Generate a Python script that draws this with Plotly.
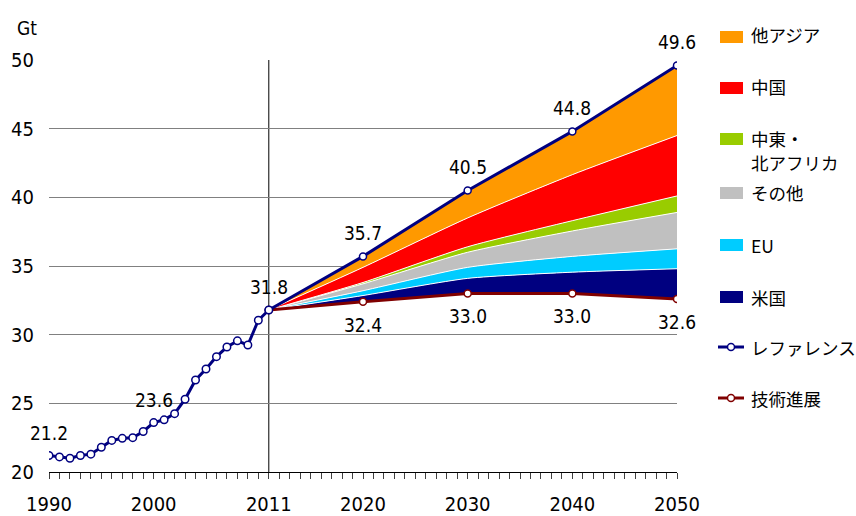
import numpy as np
import plotly.graph_objects as go

# Historical emissions (Gt), 1990-2011
hist_years = list(range(1990, 2012))
hist_vals = [21.2, 21.1, 21.0, 21.2, 21.3, 21.8, 22.3, 22.45, 22.5, 22.95,
             23.6, 23.8, 24.25, 25.3, 26.7, 27.5, 28.4, 29.1, 29.55, 29.25,
             31.05, 31.8]

# Scenarios
proj_years = [2011, 2020, 2030, 2040, 2050]
reference = [31.8, 35.7, 40.5, 44.8, 49.6]
tech_progress = [31.8, 32.4, 33.0, 33.0, 32.6]

# Reductions by region (stacked from the tech-progress line upward)
cut_us = [0, 0.45, 1.1, 1.55, 2.2]
cut_eu = [0, 0.35, 0.8, 1.15, 1.45]
cut_other = [0, 0.5, 1.1, 1.85, 2.65]
cut_mena = [0, 0.1, 0.4, 0.75, 1.2]
cut_china = [0, 1.1, 2.1, 3.35, 4.4]
cut_asia = [0, 0.8, 2.0, 3.15, 5.1]

region_names = ["米国", "EU", "その他", "中東・北アフリカ", "中国", "他アジア"]
region_colors = ["#000080", "#00CCFF", "#C0C0C0", "#99CC00", "#FF0000", "#FF9900"]
region_cuts = [cut_us, cut_eu, cut_other, cut_mena, cut_china, cut_asia]

x_labels = {1990: "1990", 2000: "2000", 2011: "2011", 2020: "2020",
            2030: "2030", 2040: "2040", 2050: "2050"}

REF_COLOR = "#000080"
TECH_COLOR = "#800000"
FONT = "DejaVu Sans Condensed, DejaVu Sans"
JP_FONT = "Noto Sans CJK JP"
JP_SIZE = 17.5

fig = go.Figure()

# stacked wedges
base = np.array(tech_progress, dtype=float)
fig.add_trace(go.Scatter(x=proj_years, y=base, mode="lines",
                         line=dict(width=0, color=TECH_COLOR),
                         hoverinfo="skip", showlegend=False))
cum = base.copy()
for i, (name, color, cut) in enumerate(zip(region_names, region_colors, region_cuts)):
    cum = cum + np.array(cut, dtype=float)
    top_layer = i == len(region_cuts) - 1
    fig.add_trace(go.Scatter(
        x=proj_years, y=cum.copy(), mode="lines", name=name,
        fill="tonexty", fillcolor=color,
        line=dict(color="white", width=1,
                  shape="linear" if top_layer else "spline", smoothing=0.6),
        showlegend=False))

# scenario lines
fig.add_trace(go.Scatter(
    x=proj_years, y=tech_progress, mode="lines+markers", name="技術進展",
    line=dict(color=TECH_COLOR, width=3),
    marker=dict(symbol="circle", size=7, color="white",
                line=dict(color=TECH_COLOR, width=1.5)),
    showlegend=False))
fig.add_trace(go.Scatter(
    x=proj_years, y=reference, mode="lines+markers", name="レファレンス",
    line=dict(color=REF_COLOR, width=3),
    marker=dict(symbol="circle", size=7, color="white",
                line=dict(color=REF_COLOR, width=1.5)),
    showlegend=False))
fig.add_trace(go.Scatter(
    x=hist_years, y=hist_vals, mode="lines+markers", name="実績",
    line=dict(color=REF_COLOR, width=3),
    marker=dict(symbol="circle", size=7.5, color="white",
                line=dict(color=REF_COLOR, width=1.5)),
    showlegend=False))

# value labels
annotations = []
def value_label(x, y, shift):
    annotations.append(dict(x=x, y=y, text=f"{y:.1f}", showarrow=False,
                            yshift=shift, xref="x", yref="y",
                            xanchor="center", yanchor="middle",
                            font=dict(family=FONT, size=19, color="black")))

for yr in (1990, 2000, 2011):
    value_label(yr, hist_vals[hist_years.index(yr)], 23)
for yr, v in zip(proj_years[1:], reference[1:]):
    value_label(yr, v, 23)
for yr, v in zip(proj_years[1:], tech_progress[1:]):
    value_label(yr, v, -23)

# legend and unit label are placed in pixel space around the plot
L, T, W, H = 49, 60, 628, 412
def px(xp):
    return (xp - L) / W
def py(yp):
    return (T + H - yp) / H

annotations.append(dict(x=px(27), y=py(28), xref="paper", yref="paper", text="Gt",
                        showarrow=False, xanchor="center", yanchor="middle",
                        font=dict(family=FONT, size=19, color="black")))

shapes = []
square_items = [(["他アジア"], "#FF9900", 37, [35]),
                (["中国"], "#FF0000", 88, [87]),
                (["中東・", "北アフリカ"], "#99CC00", 139, [138, 162]),
                (["その他"], "#C0C0C0", 193, [192]),
                (["EU"], "#00CCFF", 245, [245]),
                (["米国"], "#000080", 297, [297])]
for lines, color, sy, tys in square_items:
    shapes.append(dict(type="rect", xref="paper", yref="paper",
                       x0=px(720), x1=px(743), y0=py(sy + 6), y1=py(sy - 6),
                       fillcolor=color, line=dict(width=0)))
    for text, ty in zip(lines, tys):
        annotations.append(dict(x=px(749), y=py(ty), xref="paper", yref="paper",
                                text=text, showarrow=False, xanchor="left",
                                yanchor="middle", align="left",
                                font=dict(family=JP_FONT, size=JP_SIZE, color="black")))

line_items = [("レファレンス", REF_COLOR, 347), ("技術進展", TECH_COLOR, 398)]
for text, color, ly in line_items:
    shapes.append(dict(type="line", xref="paper", yref="paper",
                       x0=px(718), x1=px(744), y0=py(ly), y1=py(ly),
                       line=dict(color=color, width=3)))
    shapes.append(dict(type="circle", xref="paper", yref="paper",
                       x0=px(727.5), x1=px(734.5), y0=py(ly + 3.5), y1=py(ly - 3.5),
                       fillcolor="white", line=dict(color=color, width=1.5)))
    annotations.append(dict(x=px(749), y=py(ly), xref="paper", yref="paper",
                            text=text, showarrow=False, xanchor="left",
                            yanchor="middle",
                            font=dict(family=JP_FONT, size=JP_SIZE, color="black")))

# 2011 divider
shapes.append(dict(type="line", xref="x", yref="y", x0=2011, x1=2011, y0=20, y1=50,
                   line=dict(color="black", width=1), layer="below"))

tick_years = list(range(1990, 2051))
fig.update_layout(
    width=856, height=516,
    margin=dict(l=L, r=856 - L - W, t=T, b=516 - T - H, autoexpand=False),
    plot_bgcolor="white", paper_bgcolor="white",
    showlegend=False,
    font=dict(family=FONT, size=20, color="black"),
    annotations=annotations, shapes=shapes,
    xaxis=dict(range=[1990, 2050], tickmode="array", tickvals=tick_years,
               ticktext=[x_labels.get(y, "") for y in tick_years],
               ticks="outside", ticklen=6, tickcolor="#404040", tickwidth=1,
               showgrid=False, zeroline=False, showline=True, automargin=False,
               linecolor="black", linewidth=1, ticklabelstandoff=8,
               tickfont=dict(family=FONT, size=20)),
    yaxis=dict(range=[20, 50], dtick=5, tick0=20, ticks="", automargin=False,
               showgrid=True, gridcolor="#808080", gridwidth=1,
               zeroline=False, showline=False, ticklabelstandoff=14,
               tickfont=dict(family=FONT, size=20)),
)

fig.write_html("out.html")
